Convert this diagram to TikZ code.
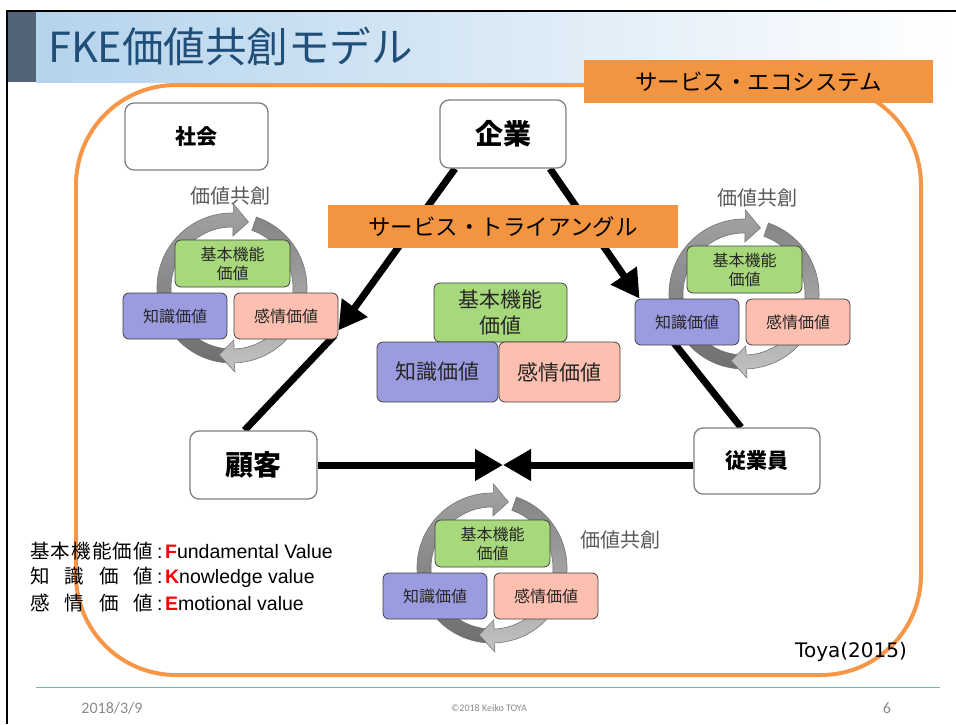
\documentclass[tikz,border=0pt]{standalone}
\usepackage{fontspec}
\setmainfont{Noto Sans CJK JP}
\newfontfamily\arialf{Liberation Sans}
\newfontfamily\dejavu{DejaVu Sans}
\newfontfamily\carlito{Carlito}
\usetikzlibrary{arrows.meta}
\pgfdeclarelayer{bg}
\pgfsetlayers{bg,main}

\definecolor{titleblue}{HTML}{1F4E79}
\definecolor{slate}{HTML}{536479}
\definecolor{barblue}{HTML}{B4D3EC}
\definecolor{ecoorange}{HTML}{F79646}
\definecolor{lblorange}{HTML}{F39441}
\definecolor{fgreen}{HTML}{A8D87C}
\definecolor{kpurple}{HTML}{9B9BE0}
\definecolor{epink}{HTML}{FDBFAF}
\definecolor{boxgray}{HTML}{7F7F7F}
\definecolor{cogray}{HTML}{595959}
\definecolor{footgray}{HTML}{8A8A8A}
\definecolor{footblue}{HTML}{6FAEDF}
\definecolor{valtext}{HTML}{262626}
\definecolor{ringA}{HTML}{A3A3A3}
\definecolor{ringB}{HTML}{6F6F6F}
\definecolor{ringC}{HTML}{858585}
\definecolor{ringD}{HTML}{C2C2C2}

\newcommand\fs[1]{\fontsize{#1}{#1}\selectfont}
\newcommand\ringarrow[5]{%
  \path[draw=black!55, line width=0.6pt, top color=#4, bottom color=#5]
  (#1:75) arc[start angle=#1, end angle=#2, radius=75] -- (#2:84) -- (#3:68)
  -- (#2:52) -- (#2:61) arc[start angle=#2, end angle=#1, radius=61] -- cycle;}

\tikzset{
  actor/.style={draw=boxgray, line width=1.3pt, rounded corners=9pt, fill=white,
    text=black, inner sep=0pt},
  valbox/.style={draw=black!75, line width=0.8pt, rounded corners=6pt,
    text=valtext, align=center, inner sep=0pt},
  fbox/.style={valbox, fill=fgreen},
  kbox/.style={valbox, fill=kpurple},
  ebox/.style={valbox, fill=epink},
  orangelbl/.style={fill=lblorange, inner sep=0pt, text=black, font=\fs{22.5}},
  tri/.style={line width=7pt, draw=black},
  triarrow/.style={tri, -{Triangle[length=28pt,width=30pt]}},
  cotext/.style={text=cogray, font=\fs{20}, inner sep=0pt},
  legend/.style={anchor=west, font=\fs{19.5}, inner sep=0pt, text=black},
  foot/.style={text=footgray, inner sep=0pt},
  cocreate/.pic={
    \ringarrow{95}{271}{284}{ringA}{ringB}
    \ringarrow{-71}{88}{101}{ringC}{ringD}
    \node[fbox, minimum width=115pt, minimum height=47pt,
      font=\fontsize{16}{19}\selectfont] (-f) at (0.5,-24.5) {基本機能\\価値};
    \node[kbox, minimum width=104pt, minimum height=46pt, font=\fs{16}]
      (-k) at (-57,28) {知識価値};
    \node[ebox, minimum width=104pt, minimum height=46pt, font=\fs{16}]
      (-e) at (54,28) {感情価値};
  }
}

\begin{document}
\begin{tikzpicture}[x=1pt,y=-1pt]
\useasboundingbox (0,0) rectangle (956,724);

% slide frame and title bar
\fill[slate] (8,12) rectangle (36,82);
\shade[left color=barblue, middle color=barblue!40!white, right color=white]
  (36,12) rectangle (956,82);
\draw[line width=2pt] (7,724) -- (7,11) -- (956,11);
\node[anchor=base west, inner sep=0pt, text=titleblue, font=\fs{41.5}]
  (title) at (48,62) {FKE価値共創モデル};

% service ecosystem
\draw[ecoorange, line width=4pt, rounded corners=100pt] (76,85) rectangle (921,675);
\node[orangelbl, minimum width=349pt, minimum height=43pt] (ecolbl) at (758.5,81.5)
  {サービス・エコシステム};

% actors
\node[actor, minimum width=143pt, minimum height=67pt, font=\bfseries\fs{21}]
  (S) at (196.5,136.5) {社会};
\node[actor, minimum width=126pt, minimum height=68pt, font=\bfseries\fs{28}]
  (K) at (503,134) {企業};
\node[actor, minimum width=127pt, minimum height=68pt, font=\bfseries\fs{28}]
  (C) at (253.5,465) {顧客};
\node[actor, minimum width=126pt, minimum height=66pt, font=\bfseries\fs{21}]
  (W) at (757,461) {従業員};

% value clusters
\pic (L) at (232,288) {cocreate};
\pic (R) at (744,294) {cocreate};
\pic (B) at (492,568) {cocreate};
\node[cotext] (Lco) at (230,196) {価値共創};
\node[cotext] (Rco) at (757,198) {価値共創};
\node[cotext] (Bco) at (620,540) {価値共創};

% central cluster
\node[fbox, minimum width=133pt, minimum height=59pt,
  font=\fontsize{21}{26}\selectfont] (Mf) at (500.5,312.5) {基本機能\\価値};
\node[kbox, minimum width=121pt, minimum height=60pt, font=\fs{21}]
  (Mk) at (437.5,372) {知識価値};
\node[ebox, minimum width=121pt, minimum height=60pt, font=\fs{21}]
  (Me) at (559.5,372) {感情価値};

% service triangle label
\node[orangelbl, minimum width=350pt, minimum height=43pt] (trilbl) at (503,226.5)
  {サービス・トライアングル};

% legend
\node[legend] (leg1) at (30,551) {\makebox[123pt][s]{基\hfill 本\hfill 機\hfill 能\hfill 価\hfill 値}{\arialf\hspace{4pt}:\hspace{2.5pt}{\bfseries\color{red}F}undamental Value}};
\node[legend] (leg2) at (30,577) {\makebox[123pt][s]{知\hfill 識\hfill 価\hfill 値}{\arialf\hspace{4pt}:\hspace{2.5pt}{\bfseries\color{red}K}nowledge value}};
\node[legend] (leg3) at (30,603) {\makebox[123pt][s]{感\hfill 情\hfill 価\hfill 値}{\arialf\hspace{4pt}:\hspace{2.5pt}{\bfseries\color{red}E}motional value}};

% citation and footer
\node[inner sep=0pt, font=\dejavu\fs{20}] (cite) at (851,652) {Toya(2015)};
\coordinate (fl) at (36,687);
\coordinate (fr) at (940,687);
\draw[footblue, line width=1pt] (fl) -- (fr);
\node[foot, font=\carlito\fs{16}] (date) at (112,708) {2018/3/9};
\node[foot, font=\carlito\fs{10}] (copy) at (489,708) {©2018 Keiko TOYA};
\node[foot, font=\carlito\fs{16}] (page) at (887,708) {6};

% service triangle connectors
\coordinate (meet) at (503,465);
\begin{pgfonlayer}{bg}
\draw[triarrow] ([xshift=-48pt]K.south) -- ([yshift=9pt]L-e.south east);
\draw[tri] ([xshift=-4pt,yshift=4pt]L-e.south east) -- ([xshift=-9pt]C.north);
\draw[triarrow] ([xshift=47pt]K.south) -- ([xshift=5pt]R-k.north west);
\draw[tri] ([xshift=-19pt,yshift=10pt]R-k.south) -- ([xshift=-16pt]W.north);
\draw[triarrow] (C.east) -- (meet);
\draw[triarrow] (W.west |- meet) -- (meet);
\end{pgfonlayer}
\end{tikzpicture}
\end{document}
